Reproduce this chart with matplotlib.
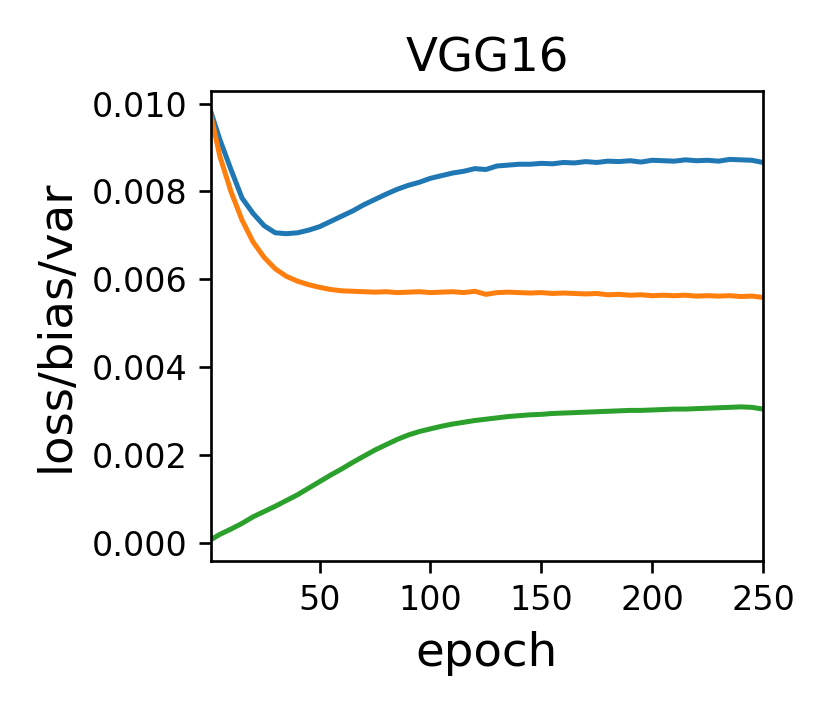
import numpy as np
from matplotlib import pyplot as plt

# values, every 5 epochs (units of 1e-3)
epochs = [1, 5, 10, 15, 20, 25, 30, 35, 40, 45, 50, 55, 60, 65, 70, 75, 80, 85, 90, 95,
          100, 105, 110, 115, 120, 125, 130, 135, 140, 145, 150, 155, 160, 165, 170, 175,
          180, 185, 190, 195, 200, 205, 210, 215, 220, 225, 230, 235, 240, 245, 250]

loss = [9.80, 9.18, 8.50, 7.85, 7.50, 7.22, 7.06, 7.04, 7.06, 7.12, 7.20, 7.32, 7.44, 7.56,
        7.70, 7.82, 7.94, 8.05, 8.14, 8.21, 8.30, 8.36, 8.42, 8.46, 8.52, 8.50, 8.58, 8.60,
        8.62, 8.62, 8.64, 8.63, 8.66, 8.65, 8.68, 8.66, 8.69, 8.68, 8.70, 8.67, 8.71, 8.70,
        8.69, 8.72, 8.70, 8.71, 8.69, 8.73, 8.72, 8.71, 8.66]

bias = [9.72, 8.80, 8.00, 7.35, 6.85, 6.50, 6.24, 6.07, 5.96, 5.88, 5.82, 5.77, 5.74, 5.73,
        5.72, 5.71, 5.72, 5.70, 5.71, 5.72, 5.70, 5.71, 5.72, 5.70, 5.73, 5.66, 5.70, 5.71,
        5.70, 5.69, 5.70, 5.68, 5.69, 5.68, 5.67, 5.68, 5.65, 5.66, 5.64, 5.65, 5.63, 5.64,
        5.63, 5.64, 5.62, 5.63, 5.62, 5.63, 5.61, 5.62, 5.59]

var = [0.08, 0.20, 0.32, 0.45, 0.60, 0.72, 0.84, 0.97, 1.10, 1.25, 1.40, 1.55, 1.69, 1.84,
       1.98, 2.12, 2.24, 2.36, 2.46, 2.54, 2.60, 2.66, 2.71, 2.75, 2.79, 2.82, 2.85, 2.88,
       2.90, 2.92, 2.93, 2.95, 2.96, 2.97, 2.98, 2.99, 3.00, 3.01, 3.02, 3.02, 3.03, 3.04,
       3.05, 3.05, 3.06, 3.07, 3.08, 3.09, 3.10, 3.09, 3.05]

fig = plt.figure(figsize=(830/240, 712/240), dpi=240)
ax = fig.add_axes([211/830, 1-561/712, (763-211)/830, (561-91)/712])

ep = np.array(epochs)
ax.plot(ep, np.array(loss)*1e-3)
ax.plot(ep, np.array(bias)*1e-3)
ax.plot(ep, np.array(var)*1e-3)

ax.set_xlim(1, 250)
ax.set_title("VGG16", fontsize=14)
ax.set_xlabel("epoch", fontsize=14)
ax.set_ylabel("loss/bias/var", fontsize=14)
ax.tick_params(labelsize=10)

fig.savefig("out.png", dpi=240)
